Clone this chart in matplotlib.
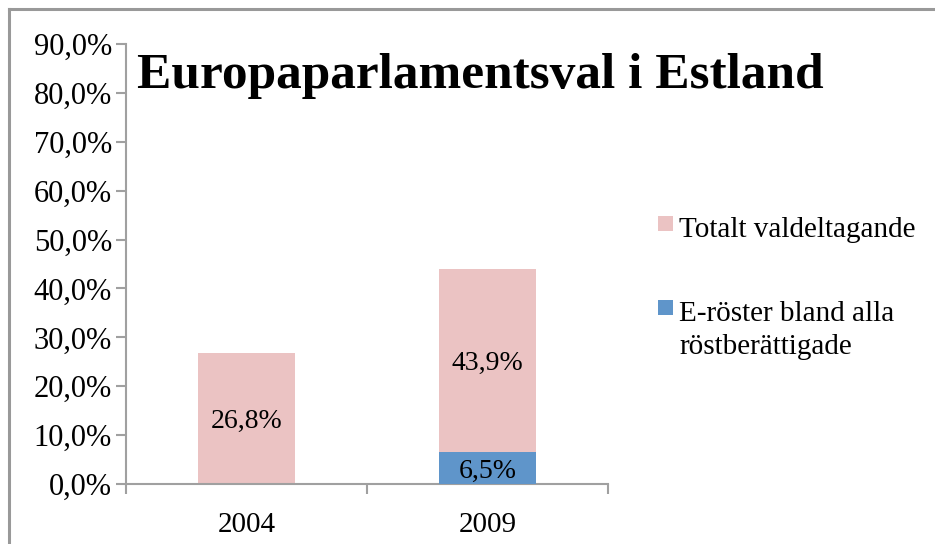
import matplotlib
matplotlib.use("Agg")
import matplotlib.pyplot as plt
from matplotlib.lines import Line2D
from matplotlib.patches import Rectangle

years = ["2004", "2009"]
total_turnout = [26.8, 43.9]
e_votes = [0.0, 6.5]
yticks = [0, 10, 20, 30, 40, 50, 60, 70, 80, 90]
series_names = ["Totalt valdeltagande", "E-röster bland alla\nröstberättigade"]
title = "Europaparlamentsval i Estland"

pink = "#EBC3C3"
blue = "#5F95CA"
gray = "#A0A0A0"
font = "Liberation Serif"

W, H = 935, 544
fig = plt.figure(figsize=(W / 100, H / 100), dpi=100)
ax = fig.add_axes([126 / W, 1 - 484 / H, (608 - 126) / W, 440 / H])

x = list(range(len(years)))
bw = 0.4
pink_h = [t - e for t, e in zip(total_turnout, e_votes)]
ax.bar(x, pink_h, bottom=e_votes, width=bw, color=pink, zorder=2)
ax.bar(x, e_votes, width=bw, color=blue, zorder=3)

for i in x:
    ax.text(i, e_votes[i] + pink_h[i] / 2, f"{total_turnout[i]:.1f}%".replace(".", ","),
            ha="center", va="center_baseline", fontsize=20, family=font, zorder=4)
    if e_votes[i] > 0:
        ax.text(i, e_votes[i] / 2, f"{e_votes[i]:.1f}%".replace(".", ","),
                ha="center", va="center_baseline", fontsize=20, family=font, zorder=4)

ax.set_xlim(-0.5, 1.5)
ax.set_ylim(0, 90)
ax.set_yticks(yticks)
ax.set_yticklabels([f"{v:.1f}%".replace(".", ",") for v in yticks], family=font, fontsize=22)
ax.set_xticks([-0.5, 0.5, 1.5], minor=False)
ax.set_xticklabels([])
ax.set_xticks(x, minor=True)
ax.set_xticklabels(years, minor=True, family=font, fontsize=21)
ax.tick_params(axis="x", which="major", length=7, width=1.5, color=gray, direction="out")
ax.tick_params(axis="x", which="minor", length=0, pad=20)
ax.tick_params(axis="y", length=7, width=1.5, color=gray, pad=3)
for s in ["top", "right"]:
    ax.spines[s].set_visible(False)
for s in ["left", "bottom"]:
    ax.spines[s].set_color(gray)
    ax.spines[s].set_linewidth(1.5)

fig.text(137 / W, 1 - 88 / H, title, fontsize=37, fontweight="bold", family=font,
         ha="left", va="baseline")

# legend (square aligned with the first text line, as in the reference)
legend_colors = [pink, blue]
legend_rows = [216, 300]  # top pixel of each square
for name, col, top in zip(series_names, legend_colors, legend_rows):
    fig.add_artist(Rectangle((658 / W, 1 - (top + 15) / H), 15 / W, 15 / H,
                             facecolor=col, edgecolor="none", transform=fig.transFigure))
    fig.text(679 / W, 1 - (top + 1) / H, name, fontsize=21, family=font,
             ha="left", va="top", linespacing=1.35)

fig.add_artist(Line2D([9 / W, 1], [1 - 9 / H, 1 - 9 / H], color="#999999", lw=2.2))
fig.add_artist(Line2D([9 / W, 9 / W], [0, 1 - 9 / H], color="#999999", lw=2.2))

fig.savefig("out.png", dpi=100)
